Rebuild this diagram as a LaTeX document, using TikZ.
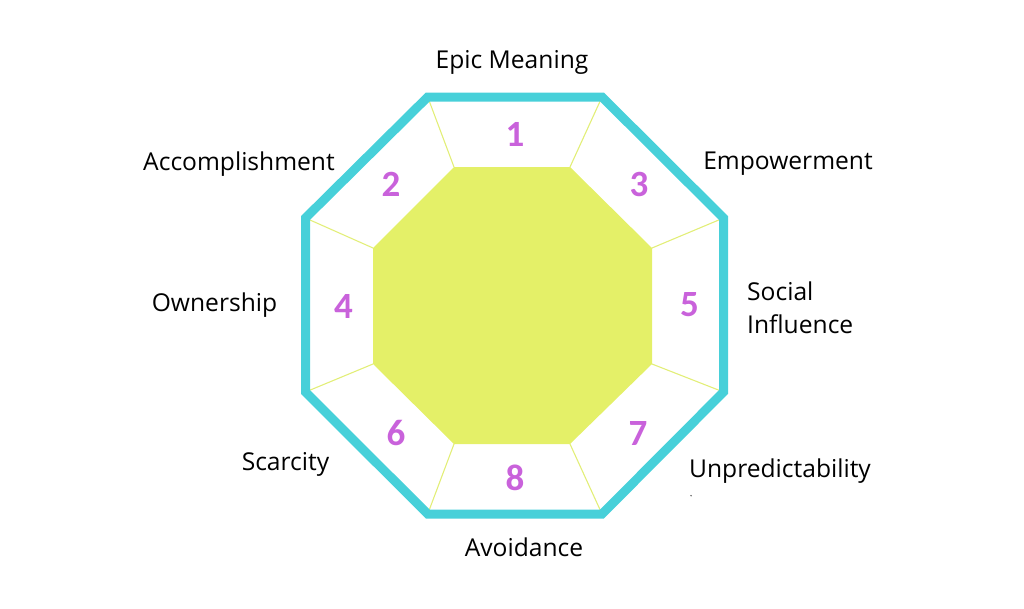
\documentclass[tikz,border=0pt]{standalone}
\usepackage{fontspec}
\setmainfont{Open Sans}
\newfontfamily\numfont{Carlito}
\definecolor{rimcyan}{HTML}{47D0D9}
\definecolor{coreyellow}{HTML}{E4F068}
\definecolor{spokeyellow}{HTML}{E2EE78}
\definecolor{numpurple}{HTML}{C962DB}
\begin{document}
\begin{tikzpicture}[x=1pt,y=-1pt,
  lbl/.style={inner sep=0pt,font=\fontsize{24.6}{28}\selectfont,text=black},
  num/.style={inner sep=0pt,font=\numfont\bfseries\fontsize{37}{40}\selectfont,text=numpurple},
  spoke/.style={draw=spokeyellow,line width=1.1pt},
  rim/.style={draw=rimcyan,line width=9pt,line join=miter}]
\useasboundingbox (0,0) rectangle (1024,608);
% outer vertices
\coordinate (o1) at (427.7,97);
\coordinate (o2) at (602,97);
\coordinate (o3) at (723.5,218);
\coordinate (o4) at (723.5,392);
\coordinate (o5) at (602,514);
\coordinate (o6) at (427.7,514);
\coordinate (o7) at (305.5,392);
\coordinate (o8) at (305.5,218);
% inner vertices
\coordinate (i1) at (454,167);
\coordinate (i2) at (570,167);
\coordinate (i3) at (652,248);
\coordinate (i4) at (652,364);
\coordinate (i5) at (570,444);
\coordinate (i6) at (454,444);
\coordinate (i7) at (373,364);
\coordinate (i8) at (373,248);
\fill[coreyellow] (i1) -- (i2) -- (i3) -- (i4) -- (i5) -- (i6) -- (i7) -- (i8) -- cycle;
\foreach \k in {1,...,8} {\draw[spoke] (o\k) -- (i\k);}
\draw[rim] (o1) -- (o2) -- (o3) -- (o4) -- (o5) -- (o6) -- (o7) -- (o8) -- cycle;
% numbers
\node[num] (n1) at (515,134.7) {1};
\node[num] (n2) at (391,184) {2};
\node[num] (n3) at (639,184) {3};
\node[num] (n4) at (343.5,306.5) {4};
\node[num] (n5) at (689.5,305) {5};
\node[num] (n6) at (396,433) {6};
\node[num] (n7) at (638,433.5) {7};
\node[num] (n8) at (515,478) {8};
% labels
\node[lbl,anchor=base] (l1) at (512,68.3) {Epic Meaning};
\node[lbl,anchor=base] (l2) at (239,170) {Accomplishment};
\node[lbl,anchor=base] (l3) at (788,169.5) {Empowerment};
\node[lbl,anchor=base west] (l4a) at (747,300) {Social};
\node[lbl,anchor=base west] (l4b) at (747,333) {Influence};
\node[lbl,anchor=base] (l5) at (214.5,311.7) {Ownership};
\node[lbl,anchor=base] (l6) at (285.5,470.7) {Scarcity};
\node[lbl,anchor=base] (l7) at (524,556.7) {Avoidance};
\node[lbl,anchor=base] (l8) at (780,477.3) {Unpredictability};
\fill[gray!70!black] (691,495.7) circle (0.8);
\end{tikzpicture}
\end{document}
